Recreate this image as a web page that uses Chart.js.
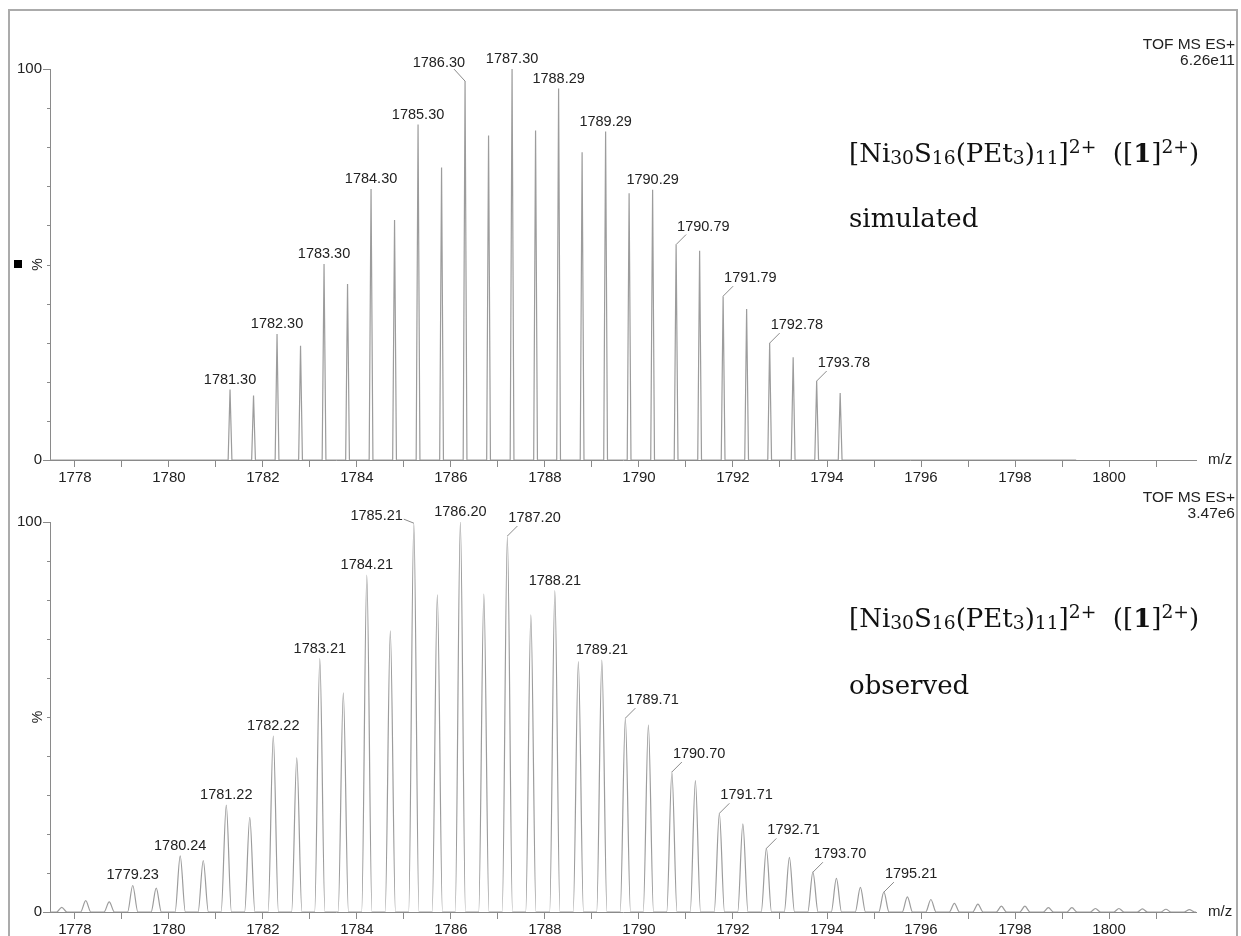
<!DOCTYPE html>
<html>
<head>
<meta charset="utf-8">
<script src="https://cdn.jsdelivr.net/npm/chart.js@4.4.1/dist/chart.umd.min.js"></script>
<style>
  html, body { margin: 0; padding: 0; background: #fff; }
  #page { position: relative; width: 1241px; height: 936px; overflow: hidden; font-family: "Liberation Sans", Arial, sans-serif; color: #222; }
  #page canvas { position: absolute; left: 0; }
  .frame { position: absolute; left: 8px; top: 9px; width: 1230px; height: 940px; border: 2px solid #ababab; box-sizing: border-box; }
  .tof { position: absolute; right: 6px; font-size: 15.5px; line-height: 16px; text-align: right; }
  .formula { position: absolute; left: 849px; font-family: "DejaVu Serif", "Liberation Serif", serif; font-size: 26px; line-height: 30px; color: #111; white-space: nowrap; }
  .formula .sb { font-size: 0.72em; vertical-align: -0.1em; }
  .formula .sp { font-size: 0.72em; vertical-align: 0.5em; }
  .marker { position: absolute; left: 14px; top: 260px; width: 8px; height: 8px; background: #000; }
</style>
</head>
<body>
<div id="page">
  <div class="frame"></div>
  <canvas id="simChart" width="1241" height="490" style="top:0"></canvas>
  <canvas id="obsChart" width="1241" height="460" style="top:490px"></canvas>
  <div class="marker"></div>
  <div class="tof" style="top:36px">TOF MS ES+<br>6.26e11</div>
  <div class="tof" style="top:489px">TOF MS ES+<br>3.47e6</div>
  <div class="formula" style="top:132px">[Ni<span class="sb">30</span>S<span class="sb">16</span>(PEt<span class="sb">3</span>)<span class="sb">11</span>]<span class="sp">2+</span>&nbsp; ([<b>1</b>]<span class="sp">2+</span>)</div>
  <div class="formula" style="top:203px">simulated</div>
  <div class="formula" style="top:597px">[Ni<span class="sb">30</span>S<span class="sb">16</span>(PEt<span class="sb">3</span>)<span class="sb">11</span>]<span class="sp">2+</span>&nbsp; ([<b>1</b>]<span class="sp">2+</span>)</div>
  <div class="formula" style="top:670px">observed</div>
</div>
<script>
// simulated isotope pattern (% of base peak)
const simMz = [1781.30, 1781.80, 1782.30, 1782.80, 1783.30, 1783.80, 1784.30, 1784.80, 1785.30, 1785.80,
               1786.30, 1786.80, 1787.30, 1787.80, 1788.29, 1788.79, 1789.29, 1789.79, 1790.29, 1790.79,
               1791.29, 1791.79, 1792.29, 1792.78, 1793.28, 1793.78, 1794.28];
const simIntensity = [18.0, 16.5, 32.2, 29.2, 50.1, 45.0, 69.3, 61.4, 85.8, 74.8,
                      96.9, 83.0, 100, 84.3, 95.0, 78.7, 84.0, 68.2, 69.1, 55.1,
                      53.5, 41.9, 38.6, 29.9, 26.3, 20.2, 17.1];
const simLabelled = [1781.30, 1782.30, 1783.30, 1784.30, 1785.30, 1786.30, 1787.30, 1788.29, 1789.29,
                     1790.29, 1790.79, 1791.79, 1792.78, 1793.78];

// observed spectrum
const obsMz = [1777.72, 1778.23, 1778.73, 1779.23, 1779.73, 1780.24, 1780.73, 1781.22, 1781.72, 1782.22,
               1782.72, 1783.21, 1783.71, 1784.21, 1784.71, 1785.21, 1785.71, 1786.20, 1786.70, 1787.20,
               1787.70, 1788.21, 1788.71, 1789.21, 1789.71, 1790.20, 1790.70, 1791.20, 1791.71, 1792.21,
               1792.71, 1793.20, 1793.70, 1794.20, 1794.71, 1795.21, 1795.71, 1796.21, 1796.71, 1797.21,
               1797.71, 1798.21, 1798.71, 1799.21, 1799.71, 1800.21, 1800.71, 1801.21, 1801.71];
const obsIntensity = [1.2, 2.9, 2.6, 6.8, 6.1, 14.4, 13.2, 27.4, 24.3, 45.1,
                      39.5, 65.0, 56.2, 86.4, 72.1, 99.7, 81.3, 100, 81.5, 96.4,
                      76.2, 82.4, 64.2, 64.6, 49.7, 47.9, 35.9, 33.7, 25.3, 22.6,
                      16.3, 14.0, 10.2, 8.6, 6.3, 5.1, 3.9, 3.2, 2.2, 2.0,
                      1.5, 1.5, 1.1, 1.1, 0.9, 0.9, 0.8, 0.7, 0.6];
const obsLabelled = [1779.23, 1780.24, 1781.22, 1782.22, 1783.21, 1784.21, 1785.21, 1786.20, 1787.20,
                     1788.21, 1789.21, 1789.71, 1790.70, 1791.71, 1792.71, 1793.70, 1795.21];

const mzMin = 1777.47, mzMax = 1801.85;
const yTicks = [0, 100];

const axisColor = '#8a8a8a';
const traceColor = '#9c9c9c';
const textColor = '#222';
const sansFont = '"Liberation Sans", Arial, sans-serif';

// label placement (default: centred above the peak)
const simSides = { '1786.30': 'upleft', '1790.79': 'right', '1791.79': 'right', '1792.78': 'right', '1793.78': 'right' };
const obsSides = { '1785.21': 'left', '1787.20': 'right', '1789.71': 'right', '1790.70': 'right',
                   '1791.71': 'right', '1792.71': 'right', '1793.70': 'right', '1795.21': 'right' };

function peakPoints(mz, inten, halfWidth, end) {
    const pts = [{ x: mzMin, y: 0 }];
    mz.forEach((m, i) => {
        pts.push({ x: m - halfWidth, y: 0 }, { x: m, y: inten[i] }, { x: m + halfWidth, y: 0 });
    });
    pts.push({ x: end, y: 0 });
    return pts;
}

const msDecor = {
    id: 'msDecor',
    afterDraw(chart, args, opts) {
        const ctx = chart.ctx;
        const area = chart.chartArea;
        const x = chart.scales.x, y = chart.scales.y;
        ctx.save();
        // short minor ticks on the intensity axis
        ctx.strokeStyle = axisColor;
        ctx.lineWidth = 1;
        ctx.beginPath();
        for (let v = 10; v < 100; v += 10) {
            const py = Math.round(y.getPixelForValue(v)) + 0.5;
            ctx.moveTo(area.left - 3, py);
            ctx.lineTo(area.left, py);
        }
        ctx.stroke();

        ctx.fillStyle = textColor;
        ctx.font = '15px ' + sansFont;
        ctx.textBaseline = 'middle';
        ctx.textAlign = 'left';
        ctx.fillText('m/z', area.right + 12, area.bottom);

        ctx.save();
        ctx.translate(38, (area.top + area.bottom) / 2);
        ctx.rotate(-Math.PI / 2);
        ctx.textAlign = 'center';
        ctx.font = '14px ' + sansFont;
        ctx.fillText('%', 0, 0);
        ctx.restore();

        // peak annotations
        ctx.font = '14.5px ' + sansFont;
        ctx.textBaseline = 'middle';
        ctx.strokeStyle = '#8a8a8a';
        opts.labelled.forEach(m => {
            const i = opts.mz.indexOf(m);
            const px = x.getPixelForValue(m);
            const py = y.getPixelForValue(opts.intensity[i]);
            const txt = m.toFixed(2);
            const side = opts.sides[txt] || 'up';
            if (side === 'up') {
                ctx.textAlign = 'center';
                ctx.fillText(txt, px, py - 10);
            } else if (side === 'right') {
                ctx.beginPath();
                ctx.moveTo(px, py);
                ctx.lineTo(px + 10, py - 10);
                ctx.stroke();
                ctx.textAlign = 'left';
                ctx.fillText(txt, px + 1, py - 18);
            } else if (side === 'upleft') {
                ctx.beginPath();
                ctx.moveTo(px, py);
                ctx.lineTo(px - 11, py - 12);
                ctx.stroke();
                ctx.textAlign = 'right';
                ctx.fillText(txt, px, py - 18);
            } else {
                ctx.beginPath();
                ctx.moveTo(px, py);
                ctx.lineTo(px - 10, py - 4);
                ctx.stroke();
                ctx.textAlign = 'right';
                ctx.fillText(txt, px - 11, py - 7);
            }
        });
        ctx.restore();
    }
};

function buildChart(id, points, smooth, padding, decor) {
    return new Chart(document.getElementById(id), {
        type: 'scatter',
        data: {
            datasets: [{
                data: points,
                showLine: true,
                borderColor: traceColor,
                borderWidth: 1.2,
                pointRadius: 0,
                cubicInterpolationMode: smooth ? 'monotone' : 'default',
                tension: 0
            }]
        },
        options: {
            responsive: false,
            animation: false,
            events: [],
            layout: { padding: padding },
            scales: {
                x: {
                    type: 'linear',
                    min: mzMin,
                    max: mzMax,
                    afterFit: s => { s.height = 28; },
                    border: { color: axisColor, width: 1 },
                    grid: { drawOnChartArea: false, tickLength: 7, color: axisColor },
                    ticks: {
                        stepSize: 1,
                        includeBounds: false,
                        autoSkip: false,
                        maxRotation: 0,
                        padding: 2,
                        color: textColor,
                        font: { family: sansFont, size: 15 },
                        callback: v => (v % 2 === 0 ? String(v) : '')
                    }
                },
                y: {
                    min: 0,
                    max: 100,
                    afterFit: s => { s.width = 40; },
                    border: { color: axisColor, width: 1 },
                    grid: {
                        drawOnChartArea: false,
                        tickLength: 7,
                        color: c => (c.tick && yTicks.includes(c.tick.value) ? axisColor : 'rgba(0,0,0,0)')
                    },
                    ticks: {
                        stepSize: 10,
                        padding: 1,
                        color: textColor,
                        font: { family: sansFont, size: 15 },
                        callback: v => (yTicks.includes(v) ? String(v) : '')
                    }
                }
            },
            plugins: {
                legend: { display: false },
                tooltip: { enabled: false },
                msDecor: decor
            }
        },
        plugins: [msDecor]
    });
}

buildChart('simChart', peakPoints(simMz, simIntensity, 0.04, 1799.3), false,
    { left: 10, right: 45, top: 69, bottom: 2 },
    { mz: simMz, intensity: simIntensity, labelled: simLabelled, sides: simSides });

buildChart('obsChart', peakPoints(obsMz, obsIntensity, 0.11, mzMax), true,
    { left: 10, right: 45, top: 32, bottom: 10 },
    { mz: obsMz, intensity: obsIntensity, labelled: obsLabelled, sides: obsSides });
</script>
</body>
</html>
